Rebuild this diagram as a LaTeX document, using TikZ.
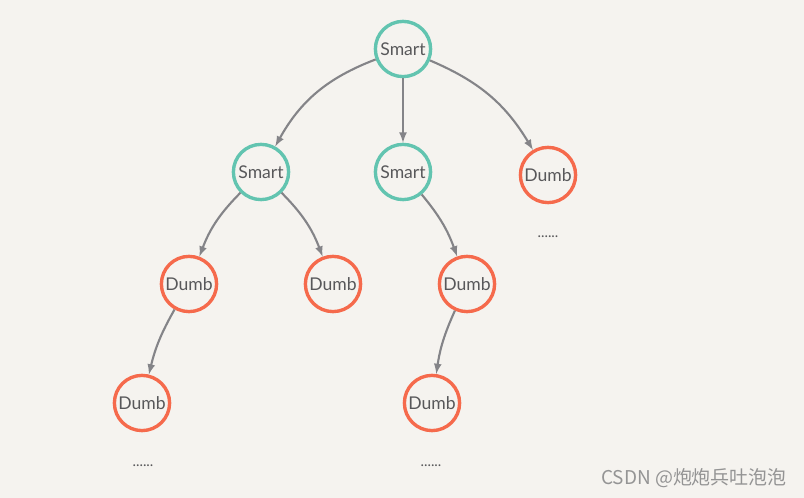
\documentclass[tikz,border=0pt]{standalone}
\usepackage{fontspec}
\setmainfont{Lato}
\newfontfamily\cjkfont{Noto Sans CJK SC}
\usepackage{tikz}
\usetikzlibrary{arrows}
\usetikzlibrary{positioning}

\definecolor{bgpaper}{RGB}{245,243,239}
\definecolor{smartcol}{RGB}{98,196,176}
\definecolor{dumbcol}{RGB}{245,106,76}
\definecolor{txtcol}{RGB}{88,88,90}
\definecolor{arrcol}{RGB}{132,132,136}

\begin{document}
\begin{tikzpicture}
    [
    x=0.025cm, y=-0.025cm,
    smart/.style={circle,draw=smartcol,line width=2.4pt,minimum size=1.38cm,inner sep=0pt,text=txtcol,font=\fontsize{12.5}{14}\selectfont},
    dumb/.style={circle,draw=dumbcol,line width=2.4pt,minimum size=1.38cm,inner sep=0pt,text=txtcol,font=\fontsize{12.5}{14}\selectfont},
    more/.style={text=txtcol,font=\fontsize{10.5}{12}\selectfont},
    edge/.style={draw=arrcol,line width=1.5pt,-latex}
    ]
    \fill [bgpaper] (0,0) rectangle (804,498);
    \useasboundingbox (0,0) rectangle (804,498);

    \node (root) at (403,49) [smart] {Smart};
    \node (s1) at (261,172) [smart] {Smart};
    \node (s2) at (403,172) [smart] {Smart};
    \node (d0) at (548,175) [dumb] {Dumb};
    \node (m0) at (548,237) [more] {......};
    \node (d1) at (189,284) [dumb] {Dumb};
    \node (d2) at (333,284) [dumb] {Dumb};
    \node (d3) at (467,284) [dumb] {Dumb};
    \node (d4) at (142,403) [dumb] {Dumb};
    \node (d5) at (432,403) [dumb] {Dumb};
    \node (m1) at (143,466) [more] {......};
    \node (m2) at (431,466) [more] {......};

    \draw [edge] (root) to [bend right=20] (s1);
    \draw [edge] (root) to (s2);
    \draw [edge] (root) to [bend left=18] (d0);
    \draw [edge] (s1) to [bend right=12] (d1);
    \draw [edge] (s1) to [bend left=12] (d2);
    \draw [edge] (s2) to [bend left=10] (d3);
    \draw [edge] (d1) to [bend right=8] (d4);
    \draw [edge] (d3) to [bend right=8] (d5);

    \node (mark) at (694,478) [text=black!42,font=\cjkfont\fontsize{13.5}{15}\selectfont] {CSDN @炮炮兵吐泡泡};
  \end{tikzpicture}
\end{document}
